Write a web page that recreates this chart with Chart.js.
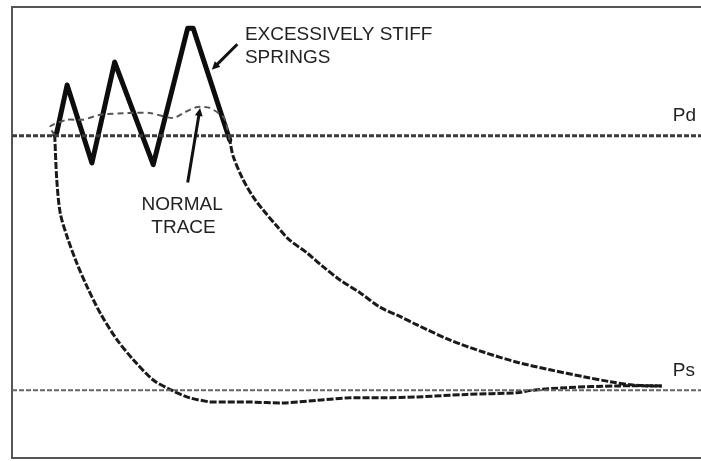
<!DOCTYPE html>
<html>
<head>
<meta charset="utf-8">
<script src="https://cdn.jsdelivr.net/npm/chart.js@4/dist/chart.umd.min.js"></script>
<style>
  html, body { margin: 0; padding: 0; background: #fff; }
  canvas { display: block; }
</style>
</head>
<body>
<canvas id="pvChart" width="701" height="461"></canvas>
<script>
// volume (% of stroke) / pressure (x Ps)
const pressureLevels = { Ps: 1, Pd: 4 };

// compression, from bottom dead centre up to Pd
const compressionX = [94.3, 90.1, 86.8, 82.9, 78.1, 73.3, 68.4, 63.6, 58.8, 56.3, 53.4, 50.5, 47.6, 45.1, 42.8, 40.3, 38.5, 36.4, 35.0, 33.5, 32.1, 31.6];
const compressionY = [1.05, 1.06, 1.10, 1.16, 1.24, 1.33, 1.45, 1.59, 1.77, 1.87, 1.98, 2.15, 2.30, 2.46, 2.62, 2.77, 2.93, 3.13, 3.28, 3.49, 3.76, 3.95];

// re-expansion, from Pd down to suction
const expansionX = [6.2, 6.5, 7.0, 8.0, 9.4, 10.9, 12.8, 15.2, 17.6, 20.5, 22.9, 25.8, 28.7];
const expansionY = [4.01, 3.48, 3.09, 2.81, 2.50, 2.22, 1.91, 1.60, 1.36, 1.12, 1.01, 0.91, 0.86];

// suction stroke
const suctionX = [28.7, 34.5, 39.3, 44.3, 49.1, 53.8, 58.8, 66.0, 73.3, 75.6, 80.5, 87.8, 94.3];
const suctionY = [0.86, 0.86, 0.85, 0.88, 0.91, 0.91, 0.92, 0.95, 0.97, 1.00, 1.03, 1.05, 1.05];

// discharge with normal valve springs
const normalX = [31.6, 30.8, 28.7, 26.9, 25.1, 23.4, 20.0, 17.1, 12.8, 10.3, 8.0, 5.5, 6.2];
const normalY = [3.95, 4.21, 4.33, 4.34, 4.28, 4.21, 4.27, 4.27, 4.25, 4.19, 4.19, 4.11, 4.01];

// discharge with excessively stiff springs
const stiffX = [31.6, 26.3, 25.5, 20.5, 14.9, 11.6, 8.0, 6.5, 6.2];
const stiffY = [3.95, 5.27, 5.27, 3.66, 4.87, 3.68, 4.60, 4.04, 4.01];

const xRange = [0, 100];
const yRange = [0.2, 5.52];

const toPoints = (xs, ys) => xs.map((x, i) => ({ x: x, y: ys[i] }));

// text and arrows, in data units
const labels = [
    { text: 'EXCESSIVELY STIFF', x: 33.8, y: 5.13, align: 'left' },
    { text: 'SPRINGS', x: 33.8, y: 4.86, align: 'left' },
    { text: 'NORMAL', x: 24.7, y: 3.13, align: 'center' },
    { text: 'TRACE', x: 24.9, y: 2.86, align: 'center' },
    { text: 'Pd', x: 95.9, y: 4.17, align: 'left' },
    { text: 'Ps', x: 95.9, y: 1.17, align: 'left' }
];
const arrows = [
    { from: [32.7, 5.08], to: [29.0, 4.78] },
    { from: [25.5, 3.45], to: [27.3, 4.33] }
];

const decorPlugin = {
    id: 'decor',
    beforeDatasetsDraw(chart) {
        const { ctx, chartArea: a } = chart;
        ctx.save();
        ctx.strokeStyle = '#555';
        ctx.lineWidth = 2;
        ctx.beginPath();
        ctx.moveTo(a.right + 10, a.top);
        ctx.lineTo(a.left, a.top);
        ctx.lineTo(a.left, a.bottom);
        ctx.lineTo(a.right + 10, a.bottom);
        ctx.stroke();
        ctx.restore();
    },
    afterDatasetsDraw(chart) {
        const { ctx, scales } = chart;
        const sx = scales.x, sy = scales.y;
        ctx.save();
        ctx.fillStyle = '#222';
        ctx.font = '19px "Liberation Sans", Arial, sans-serif';
        ctx.textBaseline = 'alphabetic';
        labels.forEach(l => {
            ctx.textAlign = l.align;
            ctx.fillText(l.text, sx.getPixelForValue(l.x), sy.getPixelForValue(l.y));
        });

        ctx.strokeStyle = '#111';
        ctx.fillStyle = '#111';
        ctx.lineWidth = 3;
        arrows.forEach(a => {
            const x0 = sx.getPixelForValue(a.from[0]), y0 = sy.getPixelForValue(a.from[1]);
            const x1 = sx.getPixelForValue(a.to[0]), y1 = sy.getPixelForValue(a.to[1]);
            const ang = Math.atan2(y1 - y0, x1 - x0);
            const head = 9;
            ctx.beginPath();
            ctx.moveTo(x0, y0);
            ctx.lineTo(x1 - Math.cos(ang) * head * 0.6, y1 - Math.sin(ang) * head * 0.6);
            ctx.stroke();
            ctx.beginPath();
            ctx.moveTo(x1, y1);
            ctx.lineTo(x1 - head * Math.cos(ang - 0.45), y1 - head * Math.sin(ang - 0.45));
            ctx.lineTo(x1 - head * Math.cos(ang + 0.45), y1 - head * Math.sin(ang + 0.45));
            ctx.closePath();
            ctx.fill();
        });
        ctx.restore();
    }
};

const ctx = document.getElementById('pvChart').getContext('2d');
new Chart(ctx, {
    type: 'scatter',
    data: {
        datasets: [
            {
                label: 'Pd',
                data: toPoints(xRange, [pressureLevels.Pd, pressureLevels.Pd]),
                borderColor: '#3a3a3a', borderWidth: 3, borderDash: [5, 2]
            },
            {
                label: 'Ps',
                data: toPoints(xRange, [pressureLevels.Ps, pressureLevels.Ps]),
                borderColor: '#666', borderWidth: 2, borderDash: [5, 2]
            },
            {
                label: 'Normal discharge',
                data: toPoints(normalX, normalY),
                borderColor: '#555', borderWidth: 2, borderDash: [6, 4], tension: 0.2
            },
            {
                label: 'Compression',
                data: toPoints(compressionX, compressionY),
                borderColor: '#1a1a1a', borderWidth: 3, borderDash: [7, 2], tension: 0.3
            },
            {
                label: 'Re-expansion',
                data: toPoints(expansionX, expansionY),
                borderColor: '#1a1a1a', borderWidth: 3, borderDash: [7, 2], tension: 0.3
            },
            {
                label: 'Suction',
                data: toPoints(suctionX, suctionY),
                borderColor: '#1a1a1a', borderWidth: 3, borderDash: [7, 2], tension: 0.3
            },
            {
                label: 'Stiff springs',
                data: toPoints(stiffX, stiffY),
                borderColor: '#0d0d0d', borderWidth: 5, tension: 0,
                borderJoinStyle: 'round', borderCapStyle: 'round'
            }
        ]
    },
    options: {
        responsive: false,
        animation: false,
        showLine: true,
        pointRadius: 0,
        layout: { padding: { left: 12, top: 7, right: 0, bottom: 3 } },
        plugins: {
            legend: { display: false },
            tooltip: { enabled: false }
        },
        scales: {
            x: { type: 'linear', display: false, min: xRange[0], max: xRange[1] },
            y: { type: 'linear', display: false, min: yRange[0], max: yRange[1] }
        }
    },
    plugins: [decorPlugin]
});
</script>
</body>
</html>
